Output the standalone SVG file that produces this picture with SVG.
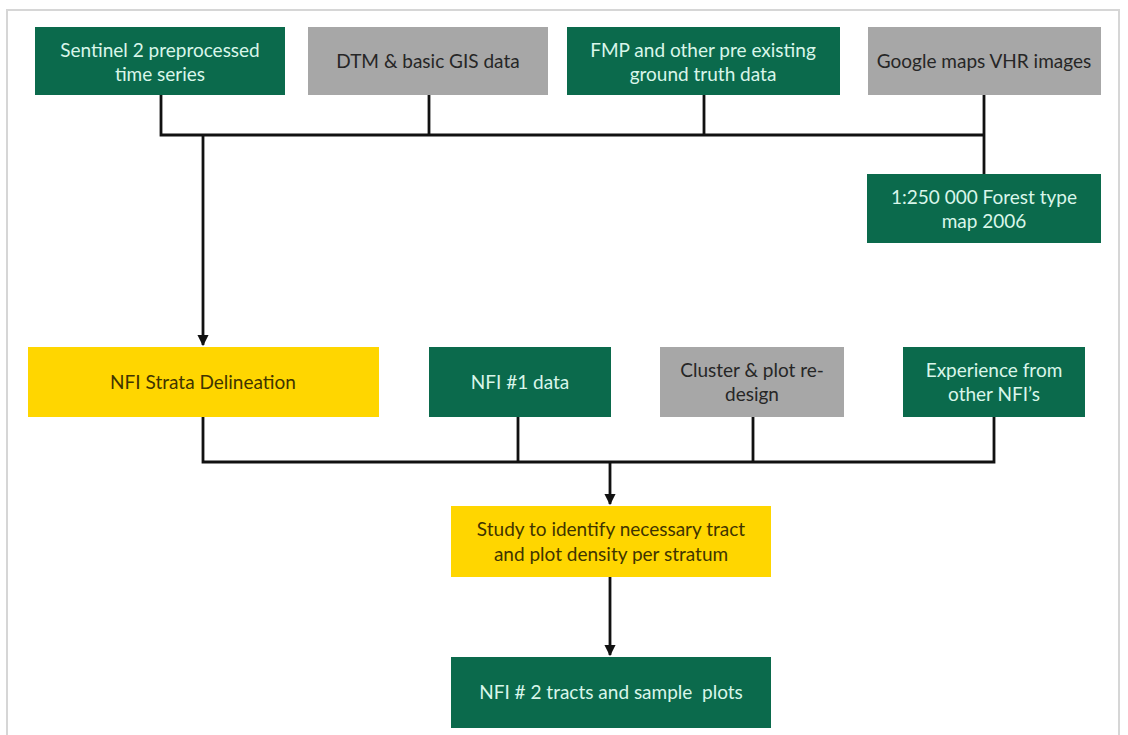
<svg xmlns="http://www.w3.org/2000/svg" width="1128" height="735" viewBox="0 0 1128 735">
  <defs>
    <marker id="arrow" viewBox="0 0 10 10" refX="9" refY="5" markerWidth="4" markerHeight="4" orient="auto" markerUnits="strokeWidth">
      <path d="M0,0 L10,5 L0,10 z" fill="#111"/>
    </marker>
    <style>
      .green { fill: #0b6a4c; }
      .grey { fill: #a7a7a7; }
      .yellow { fill: #ffd600; }
      text { font-family: Lato, "Liberation Sans", sans-serif; font-size: 19px; text-anchor: middle; }
      .tg { fill: #d9f6ea; }
      .tk { fill: #262626; }
      .ty { fill: #3f3400; }
      .wire { fill: none; stroke: #111; stroke-width: 2.8; }
    </style>
  </defs>

  <rect width="1128" height="735" fill="#ffffff"/>
  <!-- page frame -->
  <rect x="7" y="10" width="1112" height="760" fill="none" stroke="#d6d6d6" stroke-width="2"/>

  <!-- connectors -->
  <g id="connectors" class="wire">
    <path d="M161,95 V135 H984"/>
    <path d="M429,95 V135"/>
    <path d="M704,95 V135"/>
    <path d="M984,95 V174"/>
    <path d="M203,135 V345" marker-end="url(#arrow)"/>
    <path d="M203,417 V462 H994 V417"/>
    <path d="M518,417 V462"/>
    <path d="M753,417 V462"/>
    <path d="M610,462 V504" marker-end="url(#arrow)"/>
    <path d="M610,577 V655" marker-end="url(#arrow)"/>
  </g>

  <!-- input data sources -->
  <g id="sentinel">
    <rect class="green" x="35" y="27" width="250" height="68"/>
    <text class="tg" x="160" y="57">Sentinel 2 preprocessed</text>
    <text class="tg" x="160" y="81">time series</text>
  </g>
  <g id="dtm">
    <rect class="grey" x="308" y="27" width="240" height="68"/>
    <text class="tk" x="428" y="68">DTM &amp; basic GIS data</text>
  </g>
  <g id="fmp">
    <rect class="green" x="567" y="27" width="273" height="68"/>
    <text class="tg" x="703" y="57">FMP and other pre existing</text>
    <text class="tg" x="703" y="81">ground truth data</text>
  </g>
  <g id="google">
    <rect class="grey" x="868" y="27" width="233" height="68"/>
    <text class="tk" x="984" y="68">Google maps VHR images</text>
  </g>
  <g id="forest-map">
    <rect class="green" x="867" y="174" width="234" height="69"/>
    <text class="tg" x="984" y="204">1:250 000 Forest type</text>
    <text class="tg" x="984" y="228">map 2006</text>
  </g>

  <!-- second tier -->
  <g id="strata">
    <rect class="yellow" x="28" y="347" width="351" height="70"/>
    <text class="ty" x="203" y="389">NFI Strata Delineation</text>
  </g>
  <g id="nfi1">
    <rect class="green" x="429" y="347" width="182" height="70"/>
    <text class="tg" x="520" y="389">NFI #1 data</text>
  </g>
  <g id="cluster">
    <rect class="grey" x="660" y="347" width="184" height="70"/>
    <text class="tk" x="752" y="377">Cluster &amp; plot re-</text>
    <text class="tk" x="752" y="401">design</text>
  </g>
  <g id="experience">
    <rect class="green" x="903" y="347" width="182" height="70"/>
    <text class="tg" x="994" y="377">Experience from</text>
    <text class="tg" x="994" y="401">other NFI’s</text>
  </g>

  <!-- outcome -->
  <g id="study">
    <rect class="yellow" x="451" y="506" width="320" height="71"/>
    <text class="ty" x="611" y="536">Study to identify necessary tract</text>
    <text class="ty" x="611" y="561">and plot density per stratum</text>
  </g>
  <g id="nfi2">
    <rect class="green" x="451" y="657" width="320" height="71"/>
    <text class="tg" x="611" y="699" xml:space="preserve">NFI # 2 tracts and sample  plots</text>
  </g>
</svg>
